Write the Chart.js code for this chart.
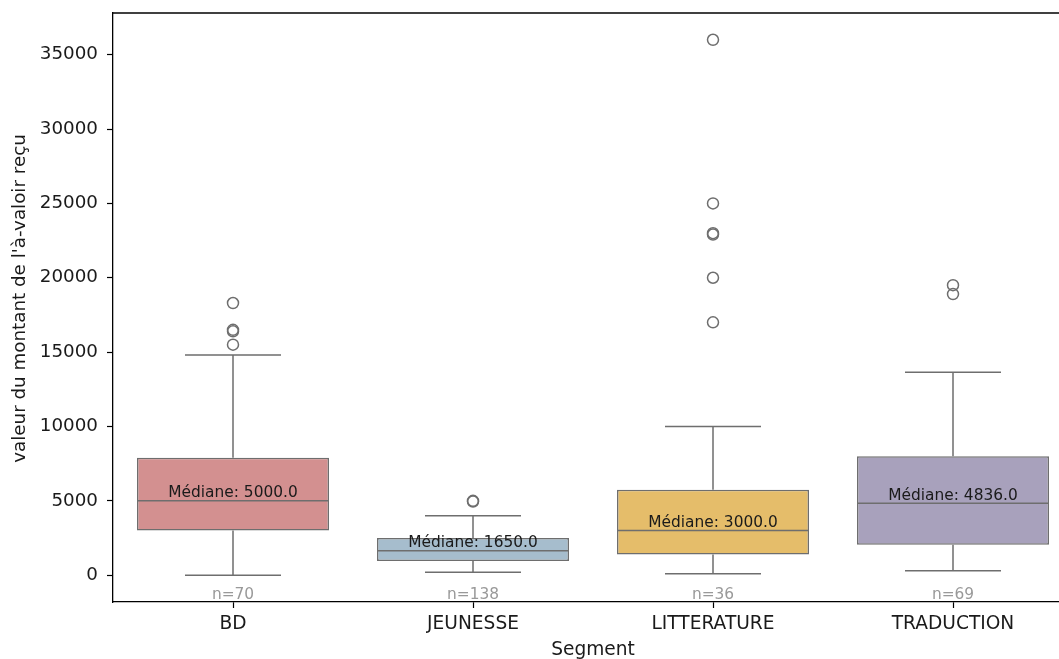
<!DOCTYPE html>
<html>
<head>
<meta charset="utf-8">
<script src="https://cdn.jsdelivr.net/npm/chart.js@4/dist/chart.umd.min.js"></script>
<style>
  html, body { margin: 0; padding: 0; background: #fff; overflow: hidden; }
  #wrap { position: absolute; left: 0; top: 0; width: 1080px; height: 659px; }
</style>
</head>
<body>
<div id="wrap"><canvas id="box"></canvas></div>
<script>
const segments = ['BD', 'JEUNESSE', 'LITTERATURE', 'TRADUCTION'];
const q1 = [3000, 950, 1400, 2050];
const medians = [5000, 1650, 3000, 4836];
const q3 = [7900, 2500, 5750, 8000];
const whiskerLow = [0, 200, 100, 300];
const whiskerHigh = [14800, 4000, 10000, 13650];
const outliers = [
  [18300, 16500, 16400, 15500],
  [5000, 4950],
  [36000, 25000, 23000, 22900, 20000, 17000],
  [19500, 18900]
];
const counts = [70, 138, 36, 69];
const boxColors = ['#d39090', '#a6bdcd', '#e5bd6a', '#a8a1bc'];
const yTicks = [0, 5000, 10000, 15000, 20000, 25000, 30000, 35000];
const yTitle = "valeur du montant de l'à-valoir reçu";

const lineGray = '#6e6e6e';
const font = 'DejaVu Sans';

const boxExtras = {
  id: 'boxExtras',
  afterDatasetsDraw(chart) {
    const ctx = chart.ctx;
    const x = chart.scales.x;
    const y = chart.scales.y;
    const a = chart.chartArea;
    const band = x.getPixelForValue(1) - x.getPixelForValue(0);
    ctx.save();
    ctx.strokeStyle = lineGray;
    ctx.lineWidth = 1.5;
    segments.forEach((s, i) => {
      const cx = x.getPixelForValue(i);
      const capHalf = band * 0.2;
      const boxHalf = band * 0.4;
      const yLo = y.getPixelForValue(whiskerLow[i]);
      const yHi = y.getPixelForValue(whiskerHigh[i]);
      const yQ1 = y.getPixelForValue(q1[i]);
      const yQ3 = y.getPixelForValue(q3[i]);
      const yMed = y.getPixelForValue(medians[i]);
      ctx.beginPath();
      ctx.moveTo(cx, yQ1); ctx.lineTo(cx, yLo);
      ctx.moveTo(cx, yQ3); ctx.lineTo(cx, yHi);
      ctx.moveTo(cx - capHalf, yLo); ctx.lineTo(cx + capHalf, yLo);
      ctx.moveTo(cx - capHalf, yHi); ctx.lineTo(cx + capHalf, yHi);
      ctx.moveTo(cx - boxHalf, yMed); ctx.lineTo(cx + boxHalf, yMed);
      ctx.stroke();

      ctx.font = '15.4px "' + font + '"';
      ctx.textAlign = 'center';
      ctx.textBaseline = 'bottom';
      ctx.fillStyle = '#1a1a1a';
      ctx.fillText('Médiane: ' + medians[i].toFixed(1), cx, yMed);
      ctx.fillStyle = '#999999';
      ctx.fillText('n=' + counts[i], cx, a.bottom + 1);
    });
    // top spine (the right one falls outside the picture)
    ctx.strokeStyle = '#000';
    ctx.lineWidth = 1.3;
    ctx.beginPath();
    ctx.moveTo(a.left, a.top); ctx.lineTo(a.right, a.top);
    ctx.stroke();

    // y axis title
    ctx.translate(20, (a.top + a.bottom) / 2 - 9);
    ctx.rotate(-Math.PI / 2);
    ctx.fillStyle = '#1a1a1a';
    ctx.font = '18.3px "' + font + '"';
    ctx.textAlign = 'center';
    ctx.textBaseline = 'middle';
    ctx.fillText(yTitle, 0, 0);
    ctx.restore();
  }
};

const outlierPoints = [];
outliers.forEach((vals, i) => vals.forEach(v => outlierPoints.push({ x: segments[i], y: v })));

new Chart(document.getElementById('box'), {
  type: 'bar',
  data: {
    labels: segments,
    datasets: [
      {
        data: segments.map((s, i) => [q1[i], q3[i]]),
        backgroundColor: boxColors,
        borderColor: lineGray,
        borderWidth: 1.5,
        borderSkipped: false,
        categoryPercentage: 0.8,
        barPercentage: 1,
        order: 2
      },
      {
        type: 'scatter',
        data: outlierPoints,
        pointRadius: 5.5,
        pointHoverRadius: 5.5,
        borderColor: lineGray,
        borderWidth: 1.5,
        backgroundColor: 'rgba(0,0,0,0)',
        order: 1
      }
    ]
  },
  options: {
    responsive: true,
    maintainAspectRatio: false,
    animation: false,
    layout: { padding: { top: 13, right: 7, left: 0, bottom: 0 } },
    plugins: { legend: { display: false }, tooltip: { enabled: false } },
    scales: {
      x: {
        type: 'category',
        offset: true,
        grid: { display: true, drawOnChartArea: false, offset: false, tickLength: 6, tickColor: '#000', tickWidth: 1.2 },
        border: { color: '#000', width: 1.3 },
        ticks: { color: '#1a1a1a', font: { family: font, size: 18.6 }, padding: 5 },
        title: { display: true, text: 'Segment', color: '#1a1a1a', font: { family: font, size: 18.6, lineHeight: 1 }, padding: { top: 0, bottom: 0 } },
        afterFit: s => { s.height = 57; s.paddingLeft = 0; s.paddingRight = 0; }
      },
      y: {
        min: -1800,
        max: 37800,
        grid: { display: true, drawOnChartArea: false, tickLength: 6, tickColor: '#000', tickWidth: 1.2 },
        border: { color: '#000', width: 1.3 },
        ticks: { color: '#1a1a1a', font: { family: font, size: 18.3 }, padding: 9, callback: v => String(v) },
        afterBuildTicks: s => { s.ticks = yTicks.map(v => ({ value: v })); },
        afterFit: s => { s.width = 113; s.paddingTop = 0; s.paddingBottom = 0; }
      }
    }
  },
  plugins: [boxExtras]
});
</script>
</body>
</html>
